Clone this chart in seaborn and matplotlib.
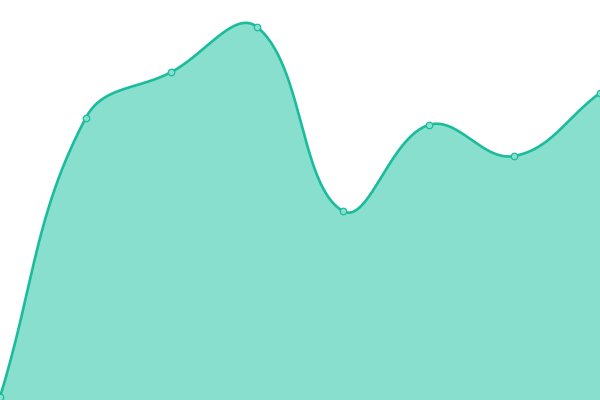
import numpy as np
import pandas as pd
import matplotlib
matplotlib.use("Agg")
import matplotlib.pyplot as plt
import seaborn as sns

# Data
x_pos = [0, 1, 2, 3, 4, 5, 6, 7]
values = [3, 282, 328, 373, 189, 275, 244, 307]

LINE = "#1abc9c"
FILL = "#88dfce"
W, H = 600, 400
X_MAX, Y_MAX = 7, 400
TENSION = 0.4

def tension_spline(xs, ys, n=60):
    # control points computed in pixel space (Chart.js-like tension spline)
    sxp = W / X_MAX; syp = H / Y_MAX
    P = np.column_stack([np.asarray(xs, float) * sxp, np.asarray(ys, float) * syp])
    m = len(P)
    cprev = np.zeros_like(P); cnext = np.zeros_like(P)
    for i in range(m):
        prev = P[i-1] if i > 0 else P[i]
        nxt = P[i+1] if i < m-1 else P[i]
        d01 = np.hypot(*(P[i]-prev)); d12 = np.hypot(*(nxt-P[i]))
        tot = d01 + d12
        s01 = d01/tot if tot else 0; s12 = d12/tot if tot else 0
        cprev[i] = P[i] - TENSION*s01*(nxt-prev)
        cnext[i] = P[i] + TENSION*s12*(nxt-prev)
    out = []
    for i in range(m-1):
        t = np.linspace(0, 1, n, endpoint=(i == m-2))[:, None]
        b = ((1-t)**3)*P[i] + 3*((1-t)**2)*t*cnext[i] + 3*(1-t)*t**2*cprev[i+1] + t**3*P[i+1]
        out.append(b)
    out = np.vstack(out)
    return out[:, 0]/sxp, out[:, 1]/syp

sx, sy = tension_spline(x_pos, values)
curve = pd.DataFrame({"x": sx, "y": sy})
pts = pd.DataFrame({"x": x_pos, "y": values})

sns.set_style("white")
fig = plt.figure(figsize=(6, 4), dpi=100)
ax = fig.add_axes([0, 0, 1, 1])
ax.fill_between(sx, sy, 0, color=FILL, linewidth=0, zorder=1)
sns.lineplot(data=curve, x="x", y="y", ax=ax, color=LINE, linewidth=1.9, sort=False, zorder=2)
sns.scatterplot(data=pts, x="x", y="y", ax=ax, color=FILL, edgecolor=LINE, s=22, linewidth=0.9, zorder=3, clip_on=False)
ax.set_xlim(0, X_MAX)
ax.set_ylim(0, Y_MAX)
ax.axis("off")
fig.savefig("out.png", dpi=100)
